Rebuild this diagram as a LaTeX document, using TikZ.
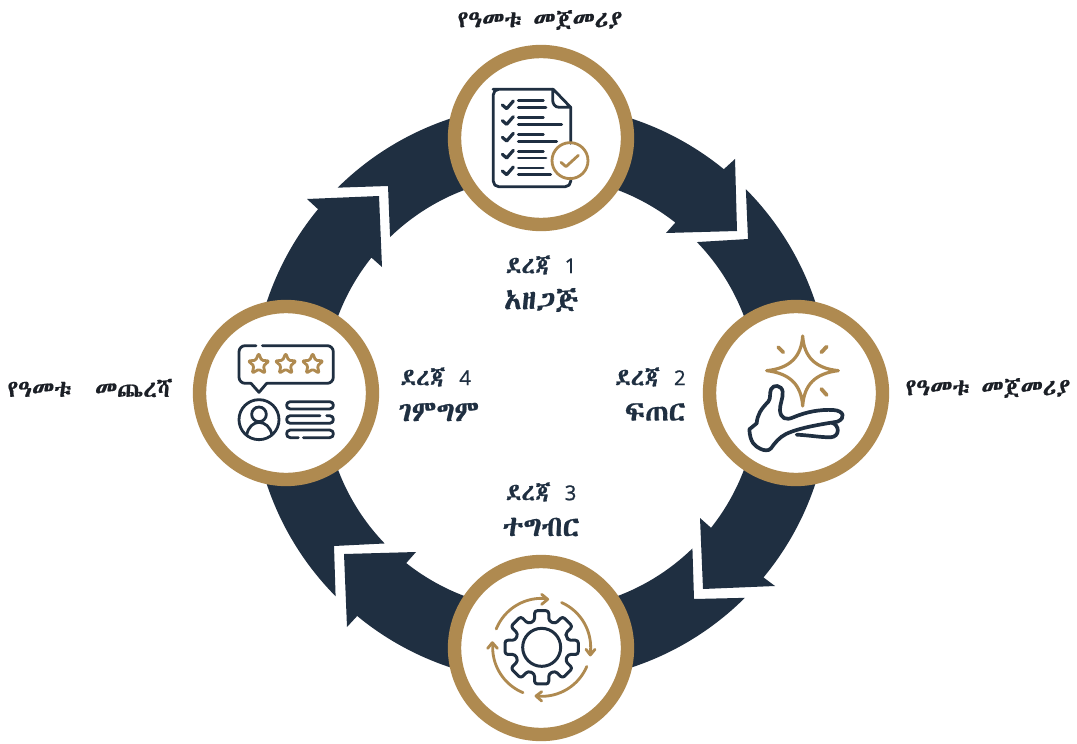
\documentclass[tikz,border=0pt]{standalone}
\usepackage{fontspec}
\newfontfamily\amh[FakeBold=0.7]{Abyssinica SIL}
\newfontfamily\dig[FakeBold=1,Scale=0.86]{Open Sans}
\definecolor{navy}{HTML}{1F2F41}
\definecolor{gold}{HTML}{AF8A50}
\definecolor{ink}{HTML}{1B1F26}
\newcommand\ringarrow[8]{\fill[navy] plot[domain=#1:#2,samples=70] ({541+289*cos(\x)},{393+289*sin(\x)}) -- #3 -- #4 -- #5 -- plot[domain=#6:#7,samples=70] ({541+217*cos(\x)},{393+217*sin(\x)}) -- #8 -- cycle;}
\tikzset{
  stage/.style={circle,draw=gold,fill=white,line width=7.6pt,minimum size=3.46cm,inner sep=0pt,outer sep=0pt},
  dicon/.style={draw=navy,line width=1.6pt,line cap=round,line join=round},
  gicon/.style={draw=gold,line width=1.6pt,line cap=round,line join=round},
  zm/.style={x=0.006667cm,y=-0.006667cm},
  edge label/.style={font=\amh\fontsize{13.5}{16}\selectfont,text=ink,inner sep=0pt},
  step label/.style={font=\amh\fontsize{13.5}{16}\selectfont,text=navy,inner sep=0pt},
  step name/.style={font=\amh\fontsize{16.5}{20}\selectfont,text=navy,inner sep=0pt},
}
\begin{document}
\begin{tikzpicture}[x=0.02cm,y=-0.02cm]
\useasboundingbox[fill=white] (0,0) rectangle (1077,743);
% ring arrows
\ringarrow{-134.72}{-50.75}{(735,159)}{(737,231)}{(666,233)}{-51.75}{-134.07}{(388,186)}
\ringarrow{-44.86}{39.65}{(775,586)}{(703,589)}{(700,518)}{38.41}{-44.07}{(748,239)}
\ringarrow{45.14}{129.5}{(347,627)}{(344,554)}{(416,552)}{128.4}{45.75}{(694,599)}
\ringarrow{135.3}{219.5}{(307,199)}{(379,196)}{(382,267)}{218.6}{136.1}{(334,546)}
% stage circles
\node[stage] (top) at (541,138) {};
\node[stage] (right) at (796,393) {};
\node[stage] (bottom) at (541,648) {};
\node[stage] (left) at (286,393) {};
% icon: checklist
\begin{scope}[shift={(440,0)},zm]
  \draw[dicon,rounded corners=3pt] (392,430) -- (392,322) (340,268) -- (175,268) -- (160,268) -- (160,560) -- (392,560) -- (392,535);
  \draw[dicon] (340,268) -- (392,322) -- (358,322) .. controls (345,322) and (338,312) .. (338,300) -- (338,268);
  \foreach \y in {315,362,412,463,513}{
    \draw[dicon,line width=1.8pt] (187,\y) -- (200,\y+11) -- (220,\y-12);
  }
  \foreach \y/\e in {302/310,323/318,352/310,374/365,404/310,424/350,454/310,474/318,504/310,524/332}{
    \draw[dicon,line width=1.6pt] (235,\y) -- (\e,\y);
  }
  \draw[gicon] (390,482) circle[radius=54];
  \draw[gicon] (363,487) -- (378,500) -- (415,466);
\end{scope}
% icon: hand and star
\begin{scope}[shift={(700,290)},zm]
  \draw[gicon,line width=1.8pt,fill=white] (308,138) .. controls (312,200) and (345,235) .. (415,242) .. controls (345,250) and (312,285) .. (308,348) .. controls (304,285) and (270,250) .. (200,242) .. controls (270,235) and (304,200) .. (308,138) -- cycle;
  \draw[gicon,line width=2.2pt] (235,172) -- (250,187) (380,170) -- (364,187) (364,297) -- (380,315);
  \draw[dicon,line width=2.1pt] (148,418) -- (170,400) .. controls (172,375) and (182,358) .. (205,335) .. controls (213,325) and (208,310) .. (213,298) .. controls (220,282) and (245,285) .. (248,305) .. controls (250,325) and (238,345) .. (240,362) .. controls (242,385) and (258,392) .. (280,382) .. controls (320,365) and (360,358) .. (400,360) .. controls (432,362) and (438,385) .. (412,395) .. controls (370,402) and (300,412) .. (258,432) .. controls (238,442) and (225,458) .. (213,475) .. controls (205,484) and (192,482) .. (180,476) .. controls (165,468) and (150,458) .. (148,418) -- cycle;
  \draw[dicon,line width=2.1pt] (395,398) .. controls (420,405) and (420,440) .. (392,442) .. controls (360,442) and (330,436) .. (290,434);
\end{scope}
% icon: gear
\begin{scope}[shift={(445,550)},zm]
  \draw[dicon,line width=1.7pt,rounded corners=1.6pt] ({290+82*cos(-22.5)},{292+82*sin(-22.5)})
    \foreach \a in {0,45,...,315}{
      -- ({290+82*cos(\a-15)},{292+82*sin(\a-15)})
      -- ({290+112*cos(\a-11)},{292+112*sin(\a-11)})
      -- ({290+112*cos(\a+11)},{292+112*sin(\a+11)})
      -- ({290+82*cos(\a+15)},{292+82*sin(\a+15)})
    } -- cycle;
  \draw[dicon,line width=1.7pt] (290,292) circle[radius=57];
  \foreach \s/\e in {202/276,-66/8,23/96,112.4/184.6}{
    \draw[gicon] plot[domain=\s:\e,samples=30] ({290+147*cos(\x)},{292+147*sin(\x)});
  }
  \draw[gicon] (290,133) -- (308,148) -- (290,163);
  \draw[gicon] (423,298) -- (436,315) -- (450,298);
  \draw[gicon] (290,425) -- (273,438) -- (290,453);
  \draw[gicon] (128,295) -- (142,278) -- (157,295);
\end{scope}
% icon: review
\begin{scope}[shift={(185,295)},zm]
  \draw[dicon,rounded corners=3.5pt] (213,152) -- (162,152) -- (162,265) -- (198,265);
  \draw[dicon] (198,265) -- (222,292) -- (245,265);
  \draw[dicon,rounded corners=3.5pt] (245,265) -- (445,265) -- (445,152) -- (232,152);
  \foreach \c in {221,302,383}{
    \draw[gicon,rounded corners=0.8pt] (\c,175)
      \foreach \a/\r in {-54/15,-18/33,18/15,54/33,90/15,126/33,162/15,198/33,234/15}{
        -- ({\c+\r*cos(\a)},{208+\r*sin(\a)})
      } -- cycle;
  }
  \draw[dicon] (222,374) circle[radius=60];
  \draw[dicon] (222,358) circle[radius=22];
  \draw[dicon] (185,420) .. controls (190,395) and (205,383) .. (222,382) .. controls (240,383) and (256,395) .. (261,420);
  \draw[dicon] (316,320) -- (434,320) .. controls (449,320) and (449,342) .. (434,342) -- (316,342) .. controls (301,342) and (301,320) .. (316,320) -- cycle;
  \draw[dicon] (425,362) -- (434,362) .. controls (449,362) and (449,385) .. (434,385) -- (316,385) .. controls (301,385) and (301,362) .. (316,362) -- (405,362);
  \draw[dicon] (355,428) -- (434,428) .. controls (449,428) and (449,405) .. (434,405) -- (316,405) .. controls (301,405) and (301,428) .. (316,428) -- (340,428);
\end{scope}
% labels
\node[edge label] (ltop) at (540,20) {የዓመቱ\hspace{0.5em}መጀመሪያ};
\node[edge label] (lright) at (988,388) {የዓመቱ\hspace{0.5em}መጀመሪያ};
\node[edge label] (lleft) at (90,388) {የዓመቱ\hspace{1em}መጨረሻ};
\node[step label] (s1) at (541,265) {ደረጃ\hspace{0.6em}{\dig 1}};
\node[step name] (n1) at (541,300) {አዘጋጅ};
\node[step label,anchor=east] (s2) at (686,377) {ደረጃ\hspace{0.6em}{\dig 2}};
\node[step name,anchor=east] (n2) at (686,412) {ፍጠር};
\node[step label] (s3) at (541,492) {ደረጃ\hspace{0.6em}{\dig 3}};
\node[step name] (n3) at (541,527) {ተግብር};
\node[step label,anchor=west] (s4) at (400,377) {ደረጃ\hspace{0.6em}{\dig 4}};
\node[step name,anchor=west] (n4) at (398,412) {ገምግም};
\end{tikzpicture}
\end{document}
